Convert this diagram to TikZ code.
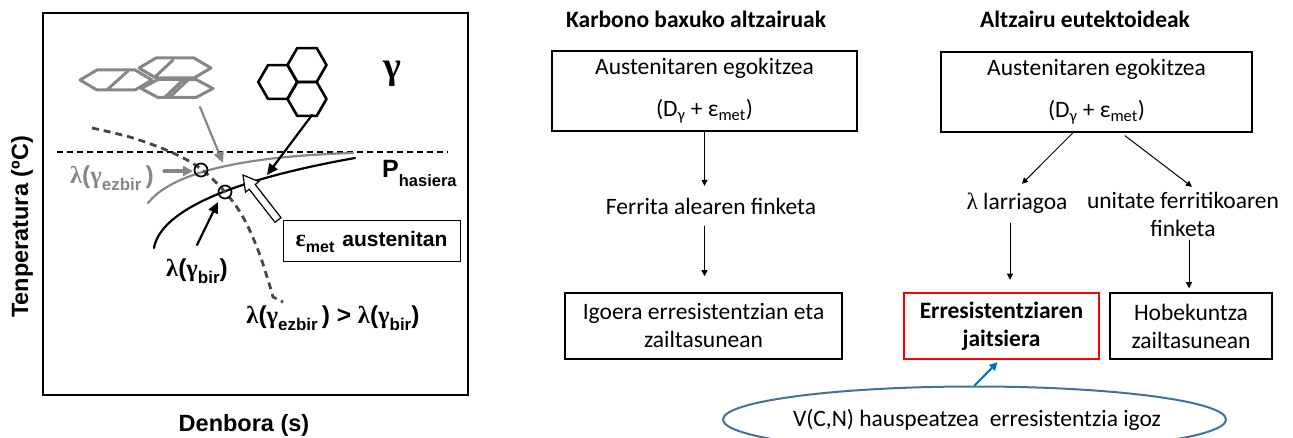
\documentclass[tikz,border=0pt]{standalone}
\usepackage{fontspec}
\setmainfont{Carlito}
\newfontfamily\arialf{Liberation Sans}
\newfontfamily\grk{Liberation Serif}
\usetikzlibrary{arrows.meta,shapes.geometric,calc,positioning}
\definecolor{midgray}{RGB}{135,135,135}
\definecolor{dashgray}{RGB}{70,70,70}
\definecolor{ovalblue}{RGB}{65,113,156}
\definecolor{arrowblue}{RGB}{0,112,192}
% greek letters and lowered subscripts for the plot labels
\newcommand{\lam}{{\grk λ}}
\newcommand{\gam}{{\grk γ}}
\newcommand{\sbs}[1]{\raisebox{-0.3em}{\fontsize{17}{17}\selectfont #1}}
\tikzset{
  sans/.style={font=\arialf\bfseries\fontsize{23.5}{27}\selectfont, inner sep=0pt},
  plab/.style={font=\arialf\bfseries\fontsize{24.5}{28}\selectfont, inner sep=0pt},
  txt/.style={font=\fontsize{23.5}{28}\selectfont, align=center, inner sep=0pt},
  fbox/.style={txt, draw, line width=1.5pt},
  flow/.style={line width=1pt, -{Triangle[length=6pt,width=6pt]}},
  thickarr/.style={line width=2.2pt, -{Triangle[length=11pt,width=10pt]}},
  hexblack/.style={line width=2.6pt, line join=round},
  hexgray/.style={midgray, line width=3pt, line join=round},
}
\begin{document}
\begin{tikzpicture}[x=1pt, y=-1pt, line cap=round]
\useasboundingbox (0,0) rectangle (1293,438);

%% --- left: T-t diagram ---
\draw[line width=2pt] (43,13) rectangle (468,395);
\node[sans, rotate=90] (ylab) at (22,227) {Tenperatura (ºC)};
\node[sans] (xlab) at (244,425) {Denbora (s)};
\node[font=\grk\bfseries\fontsize{38}{38}\selectfont, inner sep=0pt] (gamma) at (392,74) {γ};

% deformed (pancaked) grains
\foreach \cx/\cy/\h in {116/80/10, 175/68/10, 177/88.5/9}
  \draw[hexgray] (\cx-36,\cy) -- (\cx-19,\cy-\h) -- (\cx+19,\cy-\h) -- (\cx+36,\cy)
    -- (\cx+19,\cy+\h) -- (\cx-19,\cy+\h) -- cycle;
\draw[hexgray] (108,89) -- (128,71);
\draw[hexgray] (155,77) -- (173,60);
\draw[hexgray] (165,97) -- (183,80) (170,97) -- (188,80);

% recrystallised grains
\foreach \cx/\cy in {307/65, 277.75/82, 307/99}
  \draw[hexblack] (\cx,\cy) +(0:19.5) -- +(60:19.5) -- +(120:19.5) -- +(180:19.5)
    -- +(240:19.5) -- +(300:19.5) -- cycle;

% transformation start line
\draw[line width=1.8pt, dash pattern=on 6pt off 4pt, line cap=butt] (57,152) -- (448,152);

% start curves
\draw[midgray, line width=2.2pt] (148,203) .. controls (168,178) and (222,157) .. (353,153);
\draw[line width=2.2pt] (154,248) .. controls (160,214) and (220,182) .. (355,158);
\draw[dashgray, line width=2.8pt, dash pattern=on 7pt off 5pt, line cap=butt]
  plot[smooth, tension=0.6] coordinates {(92,128) (133,138) (173,153) (201,169) (225,192)
    (243,217) (258,250) (268,280) (273,297)} -- (283,302);

\coordinate (xg) at (201,170);
\coordinate (xb) at (225,192);
\draw[line width=1.7pt] (xg) circle (6.5);
\draw[line width=1.7pt] (xb) circle (6.5);

\node[plab, text=midgray] (lezb) at (112,178) {\lam(\gam\sbs{ezbir}\,)};
\node[plab] (lbir) at (197,271) {\lam(\gam\sbs{bir})};
\node[plab] (lcmp) at (333,318) {\lam(\gam\sbs{ezbir}\,) > \lam(\gam\sbs{bir})};
\node[font=\arialf\bfseries\fontsize{25}{25}\selectfont, anchor=base west, inner sep=0pt]
  (phas) at (382,178) {P\raisebox{-9pt}{\fontsize{16.5}{16.5}\selectfont hasiera}};
\node[draw, line width=1pt, minimum width=177pt, minimum height=41pt,
  font=\arialf\bfseries\fontsize{21}{24}\selectfont] (emet) at (371.5,241.5)
  {{\grk\fontsize{24}{24}\selectfont ε}\raisebox{-6pt}{\fontsize{16}{16}\selectfont met}\hspace{8pt}austenitan};

\coordinate (hexfoot) at (312,115);
\coordinate (onblack) at (267,175);
\coordinate (grfoot) at (200,107);
\coordinate (ongray) at (223,163);
\coordinate (lbirtop) at (197,245);
\coordinate (ezbtip) at (193,171);
\draw[thickarr] (hexfoot) -- (onblack);
\draw[thickarr, midgray] (grfoot) -- (ongray);
\draw[thickarr] (lbirtop) -- (218,202);
\draw[midgray, line width=3.2pt, -{Triangle[length=10pt,width=10pt]}] (164,171) -- (ezbtip);

% hollow arrow for the stored energy
\begin{scope}[shift={(278,220)}, rotate=127.9]
  \draw[line width=1.2pt, fill=white, line join=miter]
    (0,3.8) -- (42,3.8) -- (42,8.5) -- (57,0) -- (42,-8.5) -- (42,-3.8) -- (0,-3.8) -- cycle;
\end{scope}

%% --- right: flow charts ---
\node[txt, font=\bfseries\fontsize{23.5}{28}\selectfont] (t1) at (696,19) {Karbono baxuko altzairuak};
\node[txt, font=\bfseries\fontsize{23.5}{28}\selectfont] (t2) at (1085,19) {Altzairu eutektoideak};

\node[fbox, minimum width=305pt, minimum height=80pt] (box1) at (704.5,91)
  {Austenitaren egokitzea\\[14pt](D\textsubscript{γ} + ε\textsubscript{met})};
\node[txt, minimum height=40pt] (ferr) at (711,206) {Ferrita alearen finketa};
\node[fbox, minimum width=277pt, minimum height=66pt] (box3) at (703.5,326)
  {Igoera erresistentzian eta\\zailtasunean};

\draw[flow] (box1.south) -- (box1.south |- ferr.north);
\draw[flow, shorten >=16pt] (box1.south |- ferr.south) -- (box1.south |- box3.north);

\node[fbox, minimum width=311pt, minimum height=80pt] (box2) at (1096.5,92)
  {Austenitaren egokitzea\\[14pt](D\textsubscript{γ} + ε\textsubscript{met})};
\node[txt, minimum height=40pt] (lar) at (1017,203) {{\grk λ} larriagoa};
\node[txt, minimum height=52pt] (unit) at (1183,214) {unitate ferritikoaren\\finketa};
\node[fbox, draw=red, line width=2.5pt, font=\bfseries\fontsize{23.5}{28}\selectfont,
  minimum width=195pt, minimum height=66pt] (jait) at (1001.5,326)
  {Erresistentziaren\\jaitsiera};
\node[fbox, minimum width=162pt, minimum height=66pt] (hob) at (1191,326)
  {Hobekuntza\\zailtasunean};

\coordinate (b2l) at ($(box2.south)+(-23.5,0)$);
\coordinate (b2r) at ($(box2.south)+(28.5,3)$);
\coordinate (larout) at ($(lar.south)+(-7,0)$);
\coordinate (unitout) at ($(unit.south)+(6,0)$);
\draw[flow] (b2l) -- ($(lar.north)+(5,1)$);
\draw[flow] (b2r) -- ($(unit.north)+(9,-1)$);
\draw[flow, shorten >=12pt] (larout) -- (larout |- jait.north);
\draw[flow, shorten >=4pt] (unitout) -- (unitout |- hob.north);

% precipitation note
\begin{scope}
  \clip (0,0) rectangle (1293,438);
  \node[txt, draw=ovalblue, line width=2pt, ellipse, minimum width=503pt, minimum height=66pt]
    (vcn) at (974.5,419.5) {};
  \node[txt] (vtxt) at (977,420) {V(C,N) hauspeatzea\ \ erresistentzia igoz};
\end{scope}
\draw[arrowblue, line width=2pt, -{Triangle[length=8pt,width=8pt]}] (vcn.north) -- ($(jait.south)+(-4,2)$);
\end{tikzpicture}
\end{document}
